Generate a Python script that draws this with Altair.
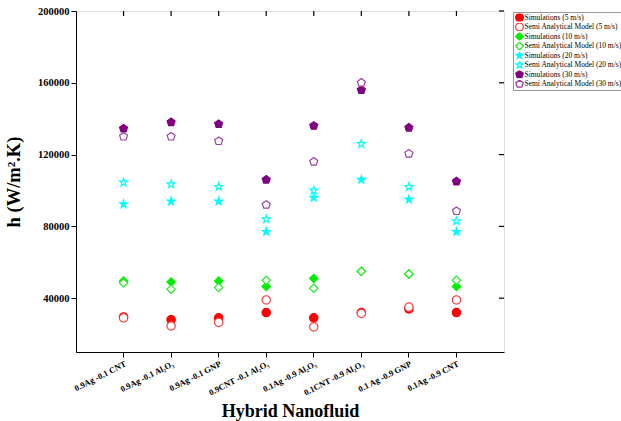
import altair as alt
import pandas as pd

categories = [
    "0.9Ag -0.1 CNT",
    "0.9Ag -0.1 Al\u2082O\u2083",
    "0.9Ag -0.1 GNP",
    "0.9CNT -0.1 Al\u2082O\u2083",
    "0.1Ag -0.9 Al\u2082O\u2083",
    "0.1CNT -0.9 Al\u2082O\u2083",
    "0.1 Ag -0.9 GNP",
    "0.1Ag -0.9 CNT",
]

series_names = [
    "Simulations (5 m/s)",
    "Semi Analytical Model (5 m/s)",
    "Simulations (10 m/s)",
    "Semi Analytical Model (10 m/s)",
    "Simulations (20 m/s)",
    "Semi Analytical Model (20 m/s)",
    "Simulations (30 m/s)",
    "Semi Analytical Model (30 m/s)",
]

sim_5 = [29500, 28000, 29000, 32000, 29000, 32000, 34000, 32000]
semi_5 = [29000, 24500, 26500, 39000, 24000, 31500, 35000, 39000]
sim_10 = [49500, 49000, 49500, 46500, 51000, 55000, 53500, 46500]
semi_10 = [48500, 45000, 46000, 50000, 45500, 55000, 53500, 50000]
sim_20 = [92400, 94000, 94000, 77000, 96000, 106000, 95000, 77000]
semi_20 = [104500, 103500, 102000, 84000, 100000, 126000, 102000, 83000]
sim_30 = [134500, 138000, 137000, 106000, 136000, 156000, 135000, 105000]
semi_30 = [130000, 130000, 127500, 92000, 116000, 160000, 120500, 88500]

series_values = [sim_5, semi_5, sim_10, semi_10, sim_20, semi_20, sim_30, semi_30]

y_ticks = [40000, 80000, 120000, 160000, 200000]

STAR = ("M0,-1 L0.235,-0.324 L0.951,-0.309 L0.380,0.124 L0.588,0.809 "
        "L0,0.4 L-0.588,0.809 L-0.380,0.124 L-0.951,-0.309 L-0.235,-0.324 Z")
PENT = "M0,-1 L0.951,-0.309 L0.588,0.809 L-0.588,0.809 L-0.951,-0.309 Z"

shapes = ["circle", "circle", "diamond", "diamond", STAR, STAR, PENT, PENT]
strokes = ["#FF0000", "#FF4040", "#00EE00", "#22EE22", "#00FFFF", "#00FFFF", "#800080", "#9A3FA0"]
fills = ["#FF0000", "white", "#00EE00", "white", "#00FFFF", "white", "#800080", "white"]

rows = []
order = 0
for s_name, vals in zip(series_names, series_values):
    for cat, v in zip(categories, vals):
        rows.append({"cat": cat, "series": s_name, "h": v, "ord": order})
        order += 1
df = pd.DataFrame(rows)

top_tick_df = pd.DataFrame({"cat": categories})
right_tick_df = pd.DataFrame({"h": y_ticks})

W, H = 428, 341
FONT = "Liberation Serif"

x_scale = alt.Scale(domain=categories, padding=1)
y_scale = alt.Scale(domain=[10000, 200000], nice=False, zero=False)

x_axis = alt.Axis(
    title="Hybrid Nanofluid",
    labelAngle=-27,
    labelAlign="right",
    labelBaseline="top",
    labelFont=FONT,
    labelFontWeight="bold",
    labelFontSize=8.5,
    labelColor="black",
    labelPadding=2,
    tickSize=5,
    tickColor="black",
    domainColor="black",
    titleFont=FONT,
    titleFontSize=18,
    titleFontWeight="bold",
    titleColor="black",
    titlePadding=6,
    grid=False,
)

y_axis = alt.Axis(
    title="h (W/m\u00b2.K)",
    values=y_ticks,
    format="d",
    labelFont=FONT,
    labelFontWeight="bold",
    labelFontSize=10.5,
    labelColor="black",
    tickSize=5,
    tickColor="black",
    domainColor="black",
    titleFont=FONT,
    titleFontSize=18.5,
    titleFontWeight="bold",
    titleColor="black",
    titlePadding=14,
    grid=False,
)

points = alt.Chart(df).mark_point(size=70, strokeWidth=1.2, opacity=1, filled=False).encode(
    x=alt.X("cat:N", sort=categories, scale=x_scale, axis=x_axis),
    y=alt.Y("h:Q", scale=y_scale, axis=y_axis),
    shape=alt.Shape("series:N", scale=alt.Scale(domain=series_names, range=shapes),
                    legend=alt.Legend(title=None)),
    stroke=alt.Stroke("series:N", scale=alt.Scale(domain=series_names, range=strokes),
                      legend=alt.Legend(title=None)),
    fill=alt.Fill("series:N", scale=alt.Scale(domain=series_names, range=fills),
                  legend=alt.Legend(title=None)),
    order=alt.Order("ord:Q"),
)

top_ticks = alt.Chart(top_tick_df).mark_rule(color="black", strokeWidth=1.2).encode(
    x=alt.X("cat:N", sort=categories, scale=x_scale, axis=None),
    y=alt.value(0),
    y2=alt.value(5),
)

right_ticks = alt.Chart(right_tick_df).mark_rule(color="black", strokeWidth=1.2).encode(
    y=alt.Y("h:Q", scale=y_scale, axis=None),
    x=alt.value(W - 5),
    x2=alt.value(W),
)

chart = (
    alt.layer(points, top_ticks, right_ticks)
    .resolve_axis(x="independent", y="independent")
    .properties(
        width=W,
        height=H,
        autosize=alt.AutoSizeParams(type="none"),
        padding={"left": 76, "top": 11, "right": 117, "bottom": 69},
    )
    .configure_view(stroke="black", strokeWidth=1)
    .configure(background="white")
    .configure_legend(
        orient="none",
        legendX=437,
        legendY=1,
        strokeColor="#999999",
        fillColor="white",
        padding=1.5,
        labelFont=FONT,
        labelFontSize=7.5,
        labelColor="black",
        symbolSize=60,
        symbolStrokeWidth=1.3,
        rowPadding=1.5,
        clipHeight=8,
        labelOffset=0,
        labelLimit=200,
    )
)

chart.save("out.html", embed_options={"renderer": "svg", "actions": False})
